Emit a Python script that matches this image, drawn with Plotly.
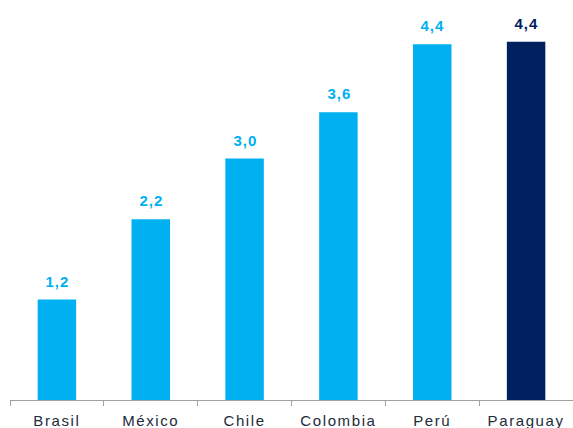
import plotly.graph_objects as go

categories = ["Brasil", "México", "Chile", "Colombia", "Perú", "Paraguay"]
values = [1.24, 2.23, 2.98, 3.55, 4.39, 4.42]
labels = ["1,2", "2,2", "3,0", "3,6", "4,4", "4,4"]
colors = ["#00B0F0", "#00B0F0", "#00B0F0", "#00B0F0", "#00B0F0", "#002060"]

fig = go.Figure()
fig.add_trace(go.Bar(x=categories, y=values, marker=dict(color=colors, line=dict(width=0)),
                     width=0.41, hoverinfo="skip"))

for c, v, t, col in zip(categories, values, labels, colors):
    fig.add_annotation(x=c, y=v, text="<b>" + t + "</b>", showarrow=False,
                       yanchor="bottom", yshift=8, xshift=1,
                       font=dict(family="Liberation Sans, Arial", size=15, color=col))

fig.update_layout(
    width=573, height=428,
    margin=dict(l=10, r=0, t=11, b=28),
    paper_bgcolor="white", plot_bgcolor="white",
    showlegend=False,
    xaxis=dict(type="category", range=[-0.5, 5.5], showline=True, linecolor="#A0A0A0", linewidth=1,
               ticks="outside", tickson="boundaries", ticklen=5, tickcolor="#A0A0A0",
               showgrid=False, zeroline=False, automargin=False, ticklabelstandoff=7,
               tickfont=dict(family="Liberation Sans, Arial", size=15, color="#1C2B3A")),
    yaxis=dict(range=[0, 4.8], visible=False, showgrid=False, zeroline=False),
)

css = ".xtick text{letter-spacing:1.6px}.annotation-text{letter-spacing:1px}"
post = ("var s=document.createElement('style');s.innerHTML='" + css +
        "';document.head.appendChild(s);")
fig.write_html("out.html", post_script=post)
